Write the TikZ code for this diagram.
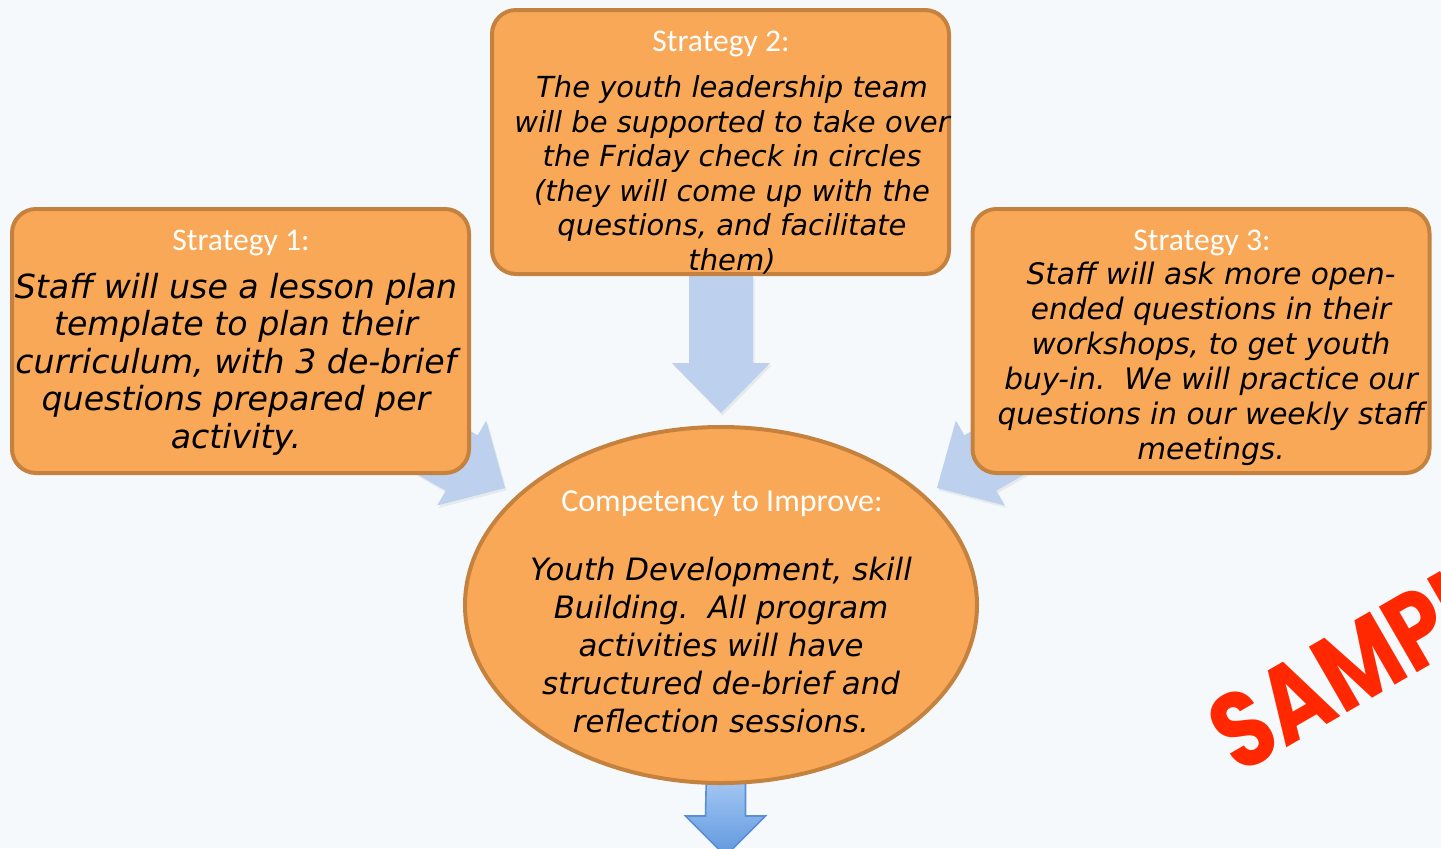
\documentclass[tikz,border=0pt]{standalone}
\usepackage{fontspec}
\setmainfont{Carlito}
\newfontfamily\handfont{DejaVu Sans}
\newfontfamily\stampfont{Poppins}
\usetikzlibrary{shapes.geometric,shadows,calc}

\definecolor{bgcol}{HTML}{F5F9FB}
\definecolor{boxfill}{HTML}{F9A857}
\definecolor{boxline}{HTML}{C5823F}
\definecolor{arrowblue}{HTML}{BDD0EE}
\definecolor{stampred}{HTML}{FF2800}
\definecolor{downtop}{HTML}{ADCDF6}
\definecolor{downbot}{HTML}{5F98DE}
\definecolor{downline}{HTML}{5B8ED2}

\tikzset{
  stratbox/.style={draw=boxline, line width=2pt, fill=boxfill,
    rounded corners=12pt, minimum width=228.5pt, minimum height=132pt,
    inner sep=0pt},
  goalshape/.style={ellipse, draw=boxline, line width=2pt, fill=boxfill,
    minimum width=256pt, minimum height=178pt, inner sep=0pt},
  headtxt/.style={text=white, font=\fontsize{15.8}{18}\selectfont,
    inner sep=0pt},
  handtxt/.style={text=black, align=center, inner sep=0pt},
  arrowbody/.style={fill=arrowblue,
    drop shadow={opacity=0.12, shadow xshift=0.8pt, shadow yshift=-1.2pt}},
  % block arrow with its tip at the origin, pointing along +x
  blockarrow/.pic={
    \path[arrowbody] (0,0) -- (-50,49) -- (-50,32) -- (-#1,32)
      -- (-#1,-32) -- (-50,-32) -- (-50,-49) -- cycle;
  },
}

\begin{document}
\begin{tikzpicture}[x=0.5pt, y=-0.5pt]
  \useasboundingbox (0,0) rectangle (1441,848);
  \clip (0,0) rectangle (1441,848);
  \fill[bgcol] (0,0) rectangle (1441,848);

  % arrow tips
  \coordinate (tipC) at (721,413);
  \coordinate (tipL) at (505,488);
  \coordinate (tipR) at (937,488);

  % block arrows from the strategies towards the competency
  \pic[rotate=-90] at (tipC) {blockarrow=137};
  \pic[rotate=-30] at (tipL) {blockarrow=220};
  \pic[rotate=-150] at (tipR) {blockarrow=220};

  % outgoing arrow below the competency
  \coordinate (downTop) at (726,770);
  \path[top color=downtop, bottom color=downbot, draw=downline, line width=0.8pt]
    ($(downTop)+(-19.5,0)$) -- ++(39,0) -- ++(0,46) -- ++(20,0)
    -- ++(-40,40) -- ++(-40,-40) -- ++(20,0) -- cycle;

  % strategy boxes
  \node[stratbox] (s1) at (240.5,341) {};
  \node[stratbox] (s2) at (720.5,142) {};
  \node[stratbox] (s3) at (1201,341) {};

  % competency
  \node[goalshape] (goal) at (721,605) {};

  % texts
  \node[headtxt] (h1) at (241,243) {Strategy 1:};
  \node[handtxt, font=\handfont\itshape\fontsize{16.6}{18.75}\selectfont]
    (t1) at (236,364) {Staff will use a lesson plan\\template to plan their\\curriculum, with 3 de-brief\\questions prepared per\\activity.};

  \node[headtxt] (h2) at (721,44) {Strategy 2:};
  \node[handtxt, font=\handfont\itshape\fontsize{14.5}{17.25}\selectfont]
    (t2) at (732,175) {The youth leadership team\\will be supported to take over\\the Friday check in circles\\(they will come up with the\\questions, and facilitate\\them)};

  \node[headtxt] (h3) at (1202,243) {Strategy 3:};
  \node[handtxt, font=\handfont\itshape\fontsize{14.8}{17.5}\selectfont]
    (t3) at (1211,364) {Staff will ask more open-\\ended questions in their\\workshops, to get youth\\buy-in.\ \ We will practice our\\questions in our weekly staff\\meetings.};

  \node[headtxt, font=\fontsize{16}{18}\selectfont] (h4) at (722,504) {Competency to Improve:};
  \node[handtxt, font=\handfont\itshape\fontsize{15.4}{19}\selectfont]
    (t4) at (721,645) {Youth Development, skill\\Building.\ \ All program\\activities will have\\structured de-brief and\\reflection sessions.};

  % stamp, running off the right edge
  \node[anchor=base west, rotate=30, text=stampred, inner sep=0pt,
    font=\stampfont\bfseries\fontsize{54}{60}\selectfont]
    (stamp) at (1238,776) {\scalebox{0.82}[1]{SAMPLE}};
\end{tikzpicture}
\end{document}
